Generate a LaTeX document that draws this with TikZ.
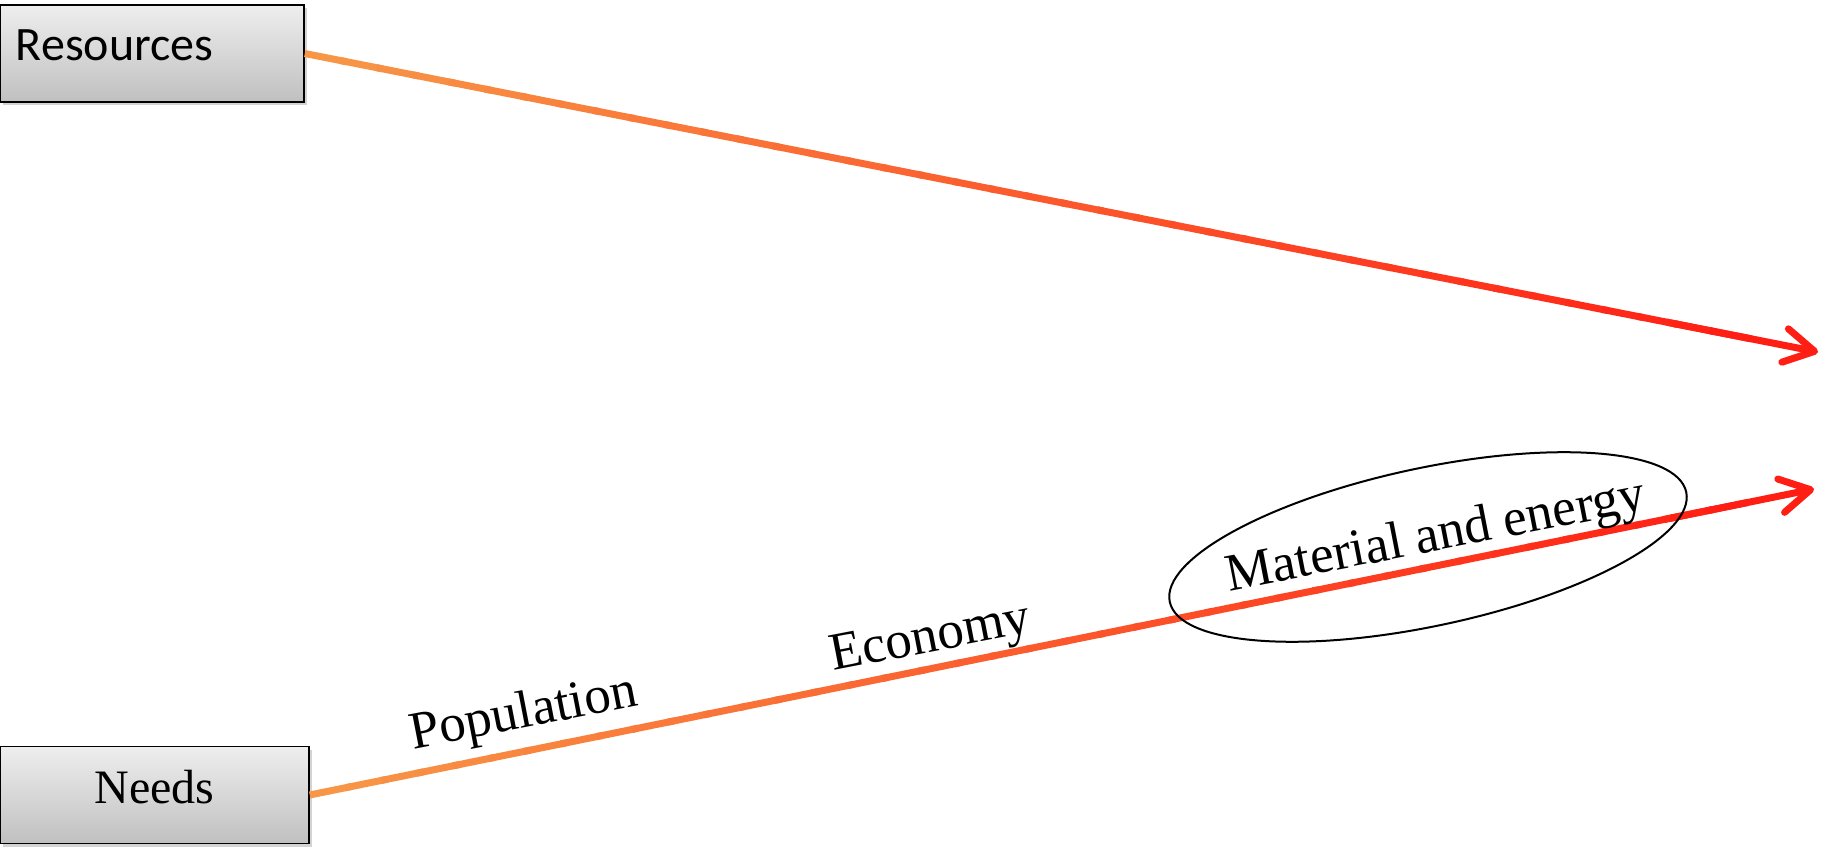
\documentclass[tikz,border=0pt]{standalone}
\usepackage{fontspec}
\setmainfont{Liberation Serif}
\newfontfamily\boxfont{Carlito}
\usetikzlibrary{arrows.meta,calc,shapes.geometric,shadows}

\definecolor{flowstart}{RGB}{247,150,70}
\definecolor{flowend}{RGB}{255,30,20}
\definecolor{boxtop}{RGB}{238,238,238}
\definecolor{boxbottom}{RGB}{192,192,192}

\tikzset{
  factorbox/.style={draw=black, line width=1.5pt, top color=boxtop, bottom color=boxbottom,
    drop shadow={shadow xshift=3pt, shadow yshift=-3pt, opacity=0.35},
    inner sep=0pt, minimum height=97pt, text depth=16pt},
  trendlabel/.style={font=\fontsize{53}{63}\selectfont, rotate=11, inner sep=0pt},
  flowtip/.style={-{Straight Barb[length=30pt, width=34pt, round]}}
}

\begin{document}
\begin{tikzpicture}[x=1pt,y=1pt]

    % Picture frame
    \useasboundingbox (0,0) rectangle (1824,847);

    % Resources box (top left)
    \node[factorbox, minimum width=304pt, inner xsep=16pt, text width=272pt, align=left,
          font=\boxfont\fontsize{48}{58}\selectfont] (res) at (152,793.5) {Resources};

    % Needs box (bottom left)
    \node[factorbox, minimum width=309pt, font=\fontsize{48}{58}\selectfont] (needs) at (154.5,52) {Needs};

    % Arrow ends
    \coordinate (resTip) at (1818,495);
    \coordinate (needsTip) at (1814,358);

    % Red heads
    \draw[flowend, line width=7pt, flowtip] ($(res.east)!0.9!(resTip)$) -- (resTip);
    \draw[flowend, line width=7pt, flowtip] ($(needs.east)!0.9!(needsTip)$) -- (needsTip);

    % Orange to red run
    \foreach \from/\to in {res/resTip, needs/needsTip} {
        \foreach \k in {1,...,40} {
            \pgfmathsetmacro{\pa}{(\k-1)/42}
            \pgfmathsetmacro{\pb}{\k/42+0.004}
            \pgfmathtruncatemacro{\mix}{100*(\k-1)/39}
            \draw[line width=7pt, color=flowend!\mix!flowstart]
                ($(\from.east)!\pa!(\to)$) -- ($(\from.east)!\pb!(\to)$);
        }
    }

    % Highlight ring
    \node[draw, ellipse, line width=2pt, rotate=12, minimum width=528pt, minimum height=158pt,
          inner sep=0pt] (focus) at (1428,300) {};

    % Labels along the needs arrow
    \node[trendlabel] (pop) at (524,132) {Population};
    \node[trendlabel] (eco) at (931,207) {Economy};
    \node[trendlabel] (mat) at (1436,309) {Material and energy};

\end{tikzpicture}
\end{document}
